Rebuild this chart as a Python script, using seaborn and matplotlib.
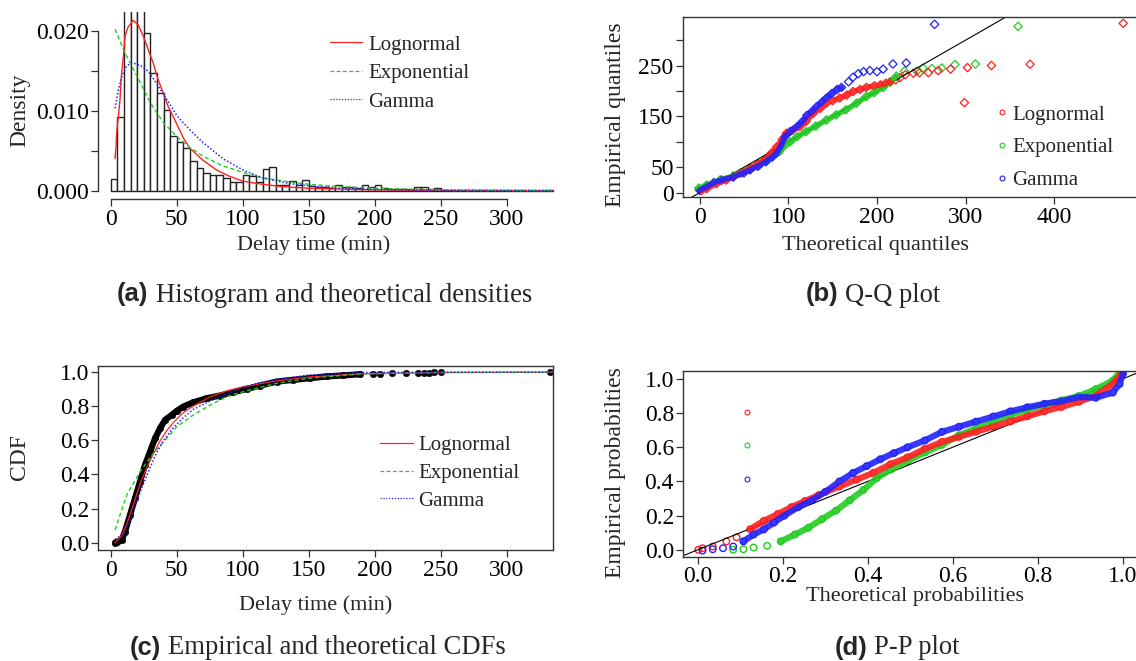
import numpy as np
import pandas as pd
import seaborn as sns
import matplotlib
import matplotlib.pyplot as plt
from matplotlib.lines import Line2D

matplotlib.use('Agg')

# ---------------- data ----------------
# (a) histogram, 5 min bins, density per bin
bin_edges = list(range(0, 340, 5))
hist_density = [0.0015, 0.0092, 0.0245, 0.0262, 0.0239, 0.0197, 0.01475, 0.0122, 0.0101, 0.0068,
                0.0061, 0.0053, 0.0037, 0.0028, 0.0022, 0.0020, 0.0020, 0.0016, 0.0011, 0.0011,
                0.0020, 0.0018, 0.0011, 0.0027, 0.0029, 0.0007, 0.0007, 0.0012, 0.0007, 0.0013,
                0.0006, 0.0005, 0.0004, 0.0003, 0.0007, 0.0005, 0.0005, 0.0003, 0.0007, 0.0004,
                0.0007, 0.0003, 0.0002, 0.0002, 0.0002, 0.0001, 0.0004, 0.0004, 0.0002, 0.0003,
                0.0001, 0, 0, 0, 0, 0, 0, 0, 0, 0, 0, 0, 0, 0, 0, 0, 0.0001]

logn_dx = [3.3, 4.0, 4.5, 5.8, 7.0, 7.8, 8.8, 9.6, 10.8, 13.3, 17.1, 20.9, 24.7, 28.5, 32.3, 36.1,
           39.8, 43.6, 48.7, 55, 60, 70, 80, 90, 100, 115, 130, 150, 175, 200, 250, 335]
logn_d = [0.0040, 0.0055, 0.0072, 0.0093, 0.0113, 0.0138, 0.0155, 0.0168, 0.0193, 0.0205, 0.0213,
          0.0207, 0.0193, 0.0176, 0.0159, 0.0138, 0.0122, 0.0105, 0.0088, 0.0066, 0.0053, 0.0038,
          0.0026, 0.0018, 0.0012, 0.0008, 0.0005, 0.0003, 0.0002, 0.0001, 0.00004, 0.00001]
exp_dx = [3.3, 10, 20, 30, 40, 50, 60, 70, 85, 100, 115, 135, 150, 175, 200, 250, 335]
exp_d = [0.0202, 0.0175, 0.0143, 0.0110, 0.0085, 0.0068, 0.0054, 0.0043, 0.0031, 0.0023, 0.0016,
         0.0011, 0.0008, 0.0005, 0.0003, 0.0001, 0.00002]
gam_dx = [3.3, 5.8, 8.3, 12, 16, 20, 24, 28.5, 33.6, 38.6, 46, 50, 60, 70, 85, 100, 115, 135, 150,
          175, 200, 250, 335]
gam_d = [0.0103, 0.0126, 0.0142, 0.0156, 0.0160, 0.0158, 0.0155, 0.0149, 0.0137, 0.0124, 0.0105,
         0.0094, 0.0076, 0.0060, 0.0040, 0.0026, 0.0016, 0.0009, 0.0006, 0.0003, 0.00015, 0.00004,
         0.00001]

# (b) Q-Q plot: theoretical vs empirical quantiles
qq_logn_x = [2, 8, 19, 30, 38, 47, 57, 66, 75, 81, 87, 93, 98, 105, 113, 120, 128, 136, 143, 150,
             158, 166, 173, 181, 188, 197, 204, 210, 215, 221, 226, 232, 241, 248, 258, 269, 283,
             298.6, 302, 329, 372.6, 477.6]
qq_logn_y = [4, 8, 18, 25, 31, 39, 48, 57, 67, 78, 90, 104, 117, 123, 130, 140, 156, 166, 176, 181,
             186, 192, 199, 203, 207, 210, 212, 215, 218, 222, 226, 232, 235, 236, 236, 240, 243,
             177, 246, 250, 252.6, 333]
qq_exp_x = [-1, 8, 23, 38, 57, 75, 90, 102, 110, 120, 131, 143, 154, 165, 177, 188, 197, 207, 215,
            222, 231, 245, 252, 262, 273, 288, 311, 359]
qq_exp_y = [9, 15, 25, 33, 48, 64, 81, 100, 110, 120, 131, 143, 153, 163, 176, 189, 197, 207, 218,
            229, 239, 239, 245, 244, 245, 252, 253, 327]
qq_gam_x = [0, 8, 16, 25, 38, 50, 57, 66, 75, 82, 87, 92, 96, 102, 110, 116, 121, 127, 132, 138,
            143, 149, 155, 160, 168, 173, 179, 185, 192, 200, 207, 218, 233, 265]
qq_gam_y = [5, 12, 20, 25, 31, 39, 45, 52, 61, 70, 78, 92, 110, 120, 130, 140, 152, 160, 169, 178,
            186, 195, 203, 207, 218, 227, 234, 238, 240, 238, 243, 253, 255, 331]

# (c) empirical and theoretical CDFs
ecdf_x = [3.3, 5, 8.3, 10.8, 14.6, 18.4, 22.2, 26.0, 29.8, 33.6, 37.4, 41.2, 46.2, 50, 55, 62.6,
          72.7, 82.8, 92.9, 103, 113, 125.8, 138.4, 151, 163.6, 176.3, 188.9, 199, 204, 213, 224,
          233, 237, 241, 245, 250, 332.4]
ecdf_y = [0.0, 0.005, 0.015, 0.065, 0.162, 0.26, 0.358, 0.456, 0.534, 0.612, 0.671, 0.72, 0.749,
          0.773, 0.798, 0.823, 0.847, 0.863, 0.882, 0.902, 0.921, 0.945, 0.955, 0.965, 0.975, 0.981,
          0.988, 0.99, 0.992, 0.994, 0.995, 0.996, 0.997, 0.998, 0.999, 0.9995, 1.0]
logn_cx = [3.3, 8.3, 12.1, 17.2, 22.2, 27.3, 32.3, 37.4, 42.4, 47.5, 55, 62.6, 75.3, 87.9, 100.5,
           125.8, 151, 189, 250, 335]
logn_c = [0.0, 0.04, 0.108, 0.225, 0.343, 0.44, 0.52, 0.597, 0.656, 0.705, 0.763, 0.802, 0.855,
          0.89, 0.915, 0.949, 0.972, 0.99, 0.998, 1.0]
exp_cx = [3.3, 12.1, 22.2, 32.3, 42.4, 50, 62.6, 75.3, 87.9, 100.5, 125.8, 151, 189, 250, 335]
exp_c = [0.075, 0.28, 0.416, 0.524, 0.612, 0.68, 0.749, 0.807, 0.857, 0.886, 0.935, 0.965, 0.99,
         0.998, 1.0]
gam_cx = [3.3, 9.6, 14.6, 19.7, 24.7, 29.8, 34.8, 39.8, 47.5, 55, 62.6, 75.3, 87.9, 100.5, 113,
          125.8, 151, 189, 250, 335]
gam_c = [0.02, 0.05, 0.127, 0.245, 0.343, 0.44, 0.528, 0.597, 0.675, 0.733, 0.782, 0.831, 0.871,
         0.91, 0.939, 0.958, 0.984, 0.998, 1.0, 1.0]

# (d) P-P plot: theoretical vs empirical probabilities
pp_logn_x = [0.001, 0.011, 0.035, 0.067, 0.091, 0.123, 0.155, 0.188, 0.22, 0.252, 0.284, 0.333,
             0.373, 0.413, 0.453, 0.493, 0.534, 0.574, 0.614, 0.654, 0.695, 0.735, 0.775, 0.815,
             0.855, 0.896, 0.936, 0.976, 0.996]
pp_logn_y = [0.0, 0.009, 0.019, 0.049, 0.073, 0.12, 0.169, 0.209, 0.249, 0.285, 0.319, 0.37, 0.41,
             0.45, 0.50, 0.54, 0.59, 0.63, 0.66, 0.69, 0.72, 0.75, 0.78, 0.81, 0.835, 0.865, 0.90,
             0.97, 1.03]
pp_exp_x = [0.083, 0.107, 0.131, 0.163, 0.195, 0.228, 0.26, 0.292, 0.325, 0.357, 0.389, 0.421,
            0.453, 0.493, 0.534, 0.574, 0.614, 0.654, 0.695, 0.735, 0.775, 0.815, 0.855, 0.896,
            0.936, 0.976, 0.996]
pp_exp_y = [0.0, 0.003, 0.013, 0.023, 0.049, 0.089, 0.129, 0.179, 0.229, 0.289, 0.349, 0.419,
            0.469, 0.519, 0.569, 0.613, 0.669, 0.709, 0.749, 0.789, 0.819, 0.849, 0.873, 0.899,
            0.939, 0.989, 1.05]
pp_gam_x = [0.011, 0.035, 0.059, 0.083, 0.107, 0.131, 0.155, 0.179, 0.203, 0.236, 0.268, 0.30,
            0.333, 0.365, 0.397, 0.429, 0.461, 0.493, 0.534, 0.574, 0.614, 0.654, 0.695, 0.735,
            0.775, 0.815, 0.855, 0.896, 0.936, 0.976, 0.992, 1.0]
pp_gam_y = [-0.005, 0.003, 0.009, 0.019, 0.049, 0.089, 0.119, 0.159, 0.199, 0.249, 0.289, 0.339,
            0.399, 0.449, 0.489, 0.529, 0.565, 0.599, 0.639, 0.689, 0.719, 0.749, 0.779, 0.809,
            0.833, 0.853, 0.869, 0.893, 0.889, 0.919, 0.969, 1.03]

dist_names = ['Lognormal', 'Exponential', 'Gamma']
RED, GREEN, BLUE = '#ff2020', '#22cc22', '#2222ff'
DASH = (0, (3, 2))
DOT = (0, (1, 1.3))

# ---------------- figure ----------------
sns.set_style('white')
plt.rcParams['font.family'] = ['Liberation Serif', 'DejaVu Serif']

W, H = 1136, 661
fig = plt.figure(figsize=(W / 100, H / 100), dpi=100)
FS = 15      # legend text
TFS = 17     # tick labels


def add_ax(left, right, top, bottom):
    return fig.add_axes([left / W, 1 - bottom / H, (right - left) / W, (bottom - top) / H])


def style(ax, box=True):
    for s in ax.spines.values():
        s.set_color('#333333')
        s.set_linewidth(1.0)
        s.set_visible(box)
    ax.tick_params(direction='out', length=5, width=0.9, color='#333333', labelsize=TFS,
                   labelcolor='black', bottom=True, left=True)
    ax.tick_params(axis='x', pad=2.0)
    ax.tick_params(axis='y', pad=1.5)
    ax.set_facecolor('white')


def labels(ax, xl, xpos, yl, ypos):
    ax.set_xlabel(xl, fontsize=16)
    ax.set_ylabel(yl, fontsize=17)
    ax.xaxis.set_label_coords(xpos[0] / W, 1 - xpos[1] / H, transform=fig.transFigure)
    ax.yaxis.set_label_coords(ypos[0] / W, 1 - ypos[1] / H, transform=fig.transFigure)
    ax.xaxis.label.set_va('center')
    ax.yaxis.label.set_va('center')


def legend_at(ax, handles, labs, left, top, hl, tp, ls):
    ax.legend(handles, labs, loc='upper left', bbox_to_anchor=(left / W, 1 - top / H),
              bbox_transform=fig.transFigure, frameon=False, borderpad=0, borderaxespad=0,
              handlelength=hl, handletextpad=tp, labelspacing=ls, fontsize=FS)


def caption(tag, body, split, y):
    fig.text(split / W, 1 - y / H, tag, ha='right', va='center_baseline', fontsize=18.5,
             fontweight='bold', family=['Liberation Sans', 'DejaVu Sans'])
    fig.text((split + 7) / W, 1 - y / H, body, ha='left', va='center_baseline', fontsize=19.2)


line_handles = [Line2D([], [], color=RED, lw=0.9),
                Line2D([], [], color=GREEN, lw=0.9, ls=DASH),
                Line2D([], [], color=BLUE, lw=0.9, ls=DOT)]

# ---- (a) histogram and densities
ax = add_ax(98.3, 559.5, 12.3, 199)
hist_df = pd.DataFrame({'delay': [e + 2.5 for e in bin_edges[:-1]], 'dens': hist_density})
sns.histplot(data=hist_df, x='delay', weights='dens', bins=bin_edges, stat='count', ax=ax,
             color='white', edgecolor='#222222', linewidth=1.0, alpha=1)
sns.lineplot(x=logn_dx, y=logn_d, ax=ax, color=RED, lw=1.0, estimator=None)
sns.lineplot(x=exp_dx, y=exp_d, ax=ax, color=GREEN, lw=1.0, linestyle=DASH, estimator=None)
sns.lineplot(x=gam_dx, y=gam_d, ax=ax, color=BLUE, lw=1.1, linestyle=DOT, estimator=None)
ax.set_xlim(-9.4, 340)
ax.set_ylim(-0.00104, 0.0223)
style(ax, box=False)
ax.spines['left'].set_visible(True)
ax.spines['bottom'].set_visible(True)
ax.spines['left'].set_bounds(0, 0.02)
ax.spines['bottom'].set_bounds(0, 300)
ax.set_xticks([0, 50, 100, 150, 200, 250, 300])
ax.set_yticks([0, 0.005, 0.01, 0.015, 0.02], ['0.000', '', '0.010', '', '0.020'])
labels(ax, 'Delay time (min)', (314, 245), 'Density', (20, 110))
legend_at(ax, line_handles, dist_names, 330, 35, 1.54, 0.3, 0.43)

# ---- (b) Q-Q plot
ax = add_ax(682.7, 1139.5, 16.7, 197.3)
ax.axline((0, 0), slope=1, color='black', lw=0.8)
for xs, ys, c, band_end in [(qq_exp_x, qq_exp_y, GREEN, 222), (qq_logn_x, qq_logn_y, RED, 215),
                            (qq_gam_x, qq_gam_y, BLUE, 162)]:
    xs, ys = np.array(xs), np.array(ys)
    m = xs <= band_end
    sns.lineplot(x=xs[m], y=ys[m], ax=ax, color=c, lw=4, estimator=None, alpha=0.9)
    sns.scatterplot(x=xs, y=ys, ax=ax, marker='D', s=18, facecolor='none', edgecolor=c,
                    linewidth=0.9)
ax.set_xlim(-19, 496)
ax.set_ylim(-9, 346)
style(ax)
ax.set_xticks([0, 100, 200, 300, 400])
ax.set_yticks([0, 50, 100, 150, 200, 250, 300], ['0', '50', '', '150', '', '250', ''])
labels(ax, 'Theoretical quantiles', (875, 245), 'Empirical quantiles', (615, 115))
pt_handles = [Line2D([], [], ls='', marker='o', ms=3.5, mfc='none', mec=c, mew=0.8)
              for c in (RED, GREEN, BLUE)]
legend_at(ax, pt_handles, dist_names, 995.5, 105.2, 0.6, 0.2, 0.63)

# ---- (c) CDFs
ax = add_ax(98.3, 552.7, 365.7, 550)
ex, ey = np.array(ecdf_x), np.array(ecdf_y)
m = ex <= 190
sns.lineplot(x=ex[m], y=ey[m], ax=ax, color='black', lw=4.5, estimator=None)
sns.scatterplot(x=ex, y=ey, ax=ax, color='black', s=22, marker='o', edgecolor='black')
sns.lineplot(x=logn_cx, y=logn_c, ax=ax, color=RED, lw=0.9, estimator=None)
sns.lineplot(x=exp_cx, y=exp_c, ax=ax, color=GREEN, lw=1.0, linestyle=DASH, estimator=None)
sns.lineplot(x=gam_cx, y=gam_c, ax=ax, color=BLUE, lw=1.1, linestyle=DOT, estimator=None)
ax.set_xlim(-9.4, 334.8)
ax.set_ylim(-0.043, 1.038)
style(ax)
ax.set_xticks([0, 50, 100, 150, 200, 250, 300])
ax.set_yticks([0, 0.2, 0.4, 0.6, 0.8, 1.0], ['0.0', '0.2', '0.4', '0.6', '0.8', '1.0'])
labels(ax, 'Delay time (min)', (315.5, 605), 'CDF', (20, 457))
legend_at(ax, line_handles, dist_names, 380, 435.3, 1.57, 0.27, 0.4)

# ---- (d) P-P plot
ax = add_ax(683, 1139.6, 371, 556.6)
ax.axline((0, 0), slope=1, color='black', lw=0.8)
for xs, ys, c, band_start in [(pp_exp_x, pp_exp_y, GREEN, 0.19), (pp_logn_x, pp_logn_y, RED, 0.1),
                              (pp_gam_x, pp_gam_y, BLUE, 0.1)]:
    xs, ys = np.array(xs), np.array(ys)
    m = xs >= band_start
    sns.lineplot(x=xs[m], y=ys[m], ax=ax, color=c, lw=4.5, estimator=None, alpha=0.9)
    sns.scatterplot(x=xs, y=ys, ax=ax, marker='o', s=22, facecolor='none', edgecolor=c,
                    linewidth=1.0)
ax.set_xlim(-0.035, 1.039)
ax.set_ylim(-0.04, 1.045)
style(ax)
ax.set_xticks([0, 0.2, 0.4, 0.6, 0.8, 1.0], ['0.0', '0.2', '0.4', '0.6', '0.8', '1.0'])
ax.set_yticks([0, 0.2, 0.4, 0.6, 0.8, 1.0], ['0.0', '0.2', '0.4', '0.6', '0.8', '1.0'])
labels(ax, 'Theoretical probabilities', (914.6, 597), 'Empirical probabilties', (615, 473))
legend_at(ax, pt_handles, [' ', ' ', ' '], 740.8, 404.3, 0.6, 0.2, 0.68)

# ---- captions
caption('(a)', 'Histogram and theoretical densities', 148.5, 292)
caption('(b)', 'Q-Q plot', 838, 292)
caption('(c)', 'Empirical and theoretical CDFs', 161, 645)
caption('(d)', 'P-P plot', 867, 645)

fig.savefig('out.png', dpi=100)
